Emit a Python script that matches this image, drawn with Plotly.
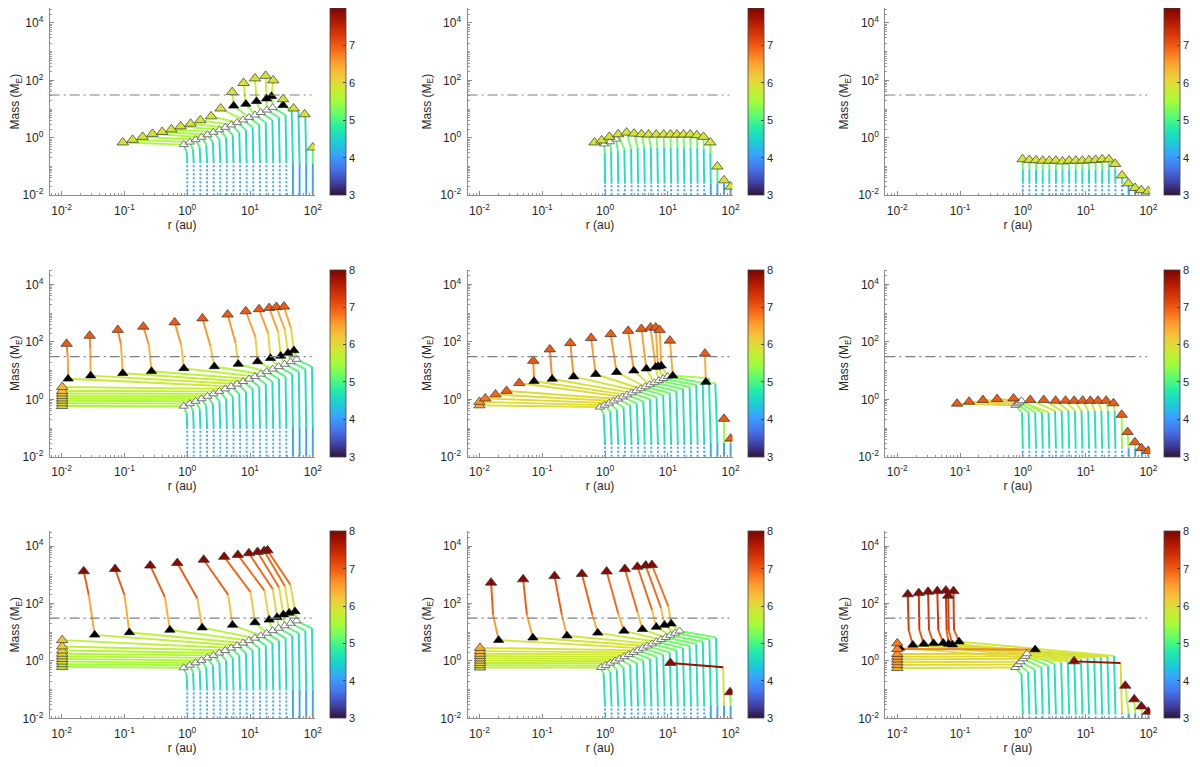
import plotly.graph_objects as go
import plotly.colors as pc

N = None

# starting orbits of the 20 embryos (au), same in every panel
R0 = [1.00, 1.27, 1.62, 2.07, 2.64, 3.36, 4.28, 5.46, 6.95, 8.86,
      11.3, 14.4, 18.3, 23.4, 29.8, 37.9, 48.3, 61.6, 78.5, 100.0]

M_START = 0.01      # seed mass (M_E)
ISO_MASS = 31       # dash-dot reference mass (M_E)

# per panel scalars, panel order: (1,1) (1,2) (1,3) (2,1) (2,2) (2,3) (3,1) (3,2) (3,3)
MD_ALL = [0.13, 0.025, 0.025, 0.10, 0.03, 0.02, 0.10, 0.027, 0.015]   # top of dotted stem
TW_ALL = [5.2, 5.2, 5.2, 5.2, 5.4, 5.6, 5.2, 5.4, 5.5]               # log t at open triangles
TG_ALL = [5.9, 6.0, 6.0, 6.8, 6.9, 7.0, 7.3, 7.2, 7.5]               # log t at top of gas tracks
TL_ALL = [5.9, 5.6, 5.4, 6.4, 6.6, 6.6, 6.3, 6.5, 6.8]               # log t where lines stop changing colour
NDOT = 16

# column 1 growth (knee, open triangles) shared by the three rows
C1_KR = [0.98, 1.24, 1.58, 2.01, 2.56, 3.26, 4.15, 5.30, 6.74, 8.60,
         11.0, 14.0, 17.8, 22.7, 28.9, 36.8, 46.9, 59.8, 76.1, 97.0]
C1_KM = [0.32, 0.39, 0.47, 0.58, 0.70, 0.86, 1.05, 1.28, 1.55, 1.89,
         2.31, 2.82, 3.43, 4.18, 5.10, 6.22, 7.6, 9.2, 11.3, 13.7]
C1_WR = [0.88, 1.10, 1.36, 1.69, 2.10, 2.62, 3.25, 4.04, 5.02, 6.25,
         7.76, 9.65, 12.0, 14.9, 18.5, 23.0, 28.6, 35.6, 44.3, 55.0]
C1_WM = [0.58, 0.71, 0.86, 1.05, 1.28, 1.56, 1.90, 2.32, 2.82, 3.44,
         4.20, 5.12, 6.24, 7.60, 9.27, 11.3, 13.8, 16.8, 20.5, 24.9]
NO_GAS = [N] * 20

# ---- panel (1,1)
P11_KR = C1_KR[:16] + [46.0, 59.0, 76.0, N]
P11_KM = C1_KM[:16] + [9.0, 8.0, 5.2, N]
P11_WR = C1_WR[:16] + [N, N, N, N]
P11_WM = C1_WM[:16] + [N, N, N, N]
P11_IR = [N] * 11 + [5.5, 8.6, 12.7, 18.3, 22.0, 33.6, N, N, N]
P11_IM = [N] * 11 + [13, 15, 18.7, 23, 28, 13.6, N, N, N]
P11_ER = [0.094, 0.135, 0.195, 0.28, 0.40, 0.56, 0.785, 1.13, 1.62, 2.4,
          3.4, 5.2, 7.9, 12.0, 17.7, 23.4, 33.6, 49.5, 74.0, 100.0]
P11_EM = [0.69, 0.85, 1.08, 1.37, 1.6, 1.97, 2.5, 3.1, 4.1, 5.6,
          10.5, 39, 81, 117, 144, 100, 22, 10.5, 6.6, 0.46]
P11_TE = [5.9] * 20
P11_TI = [N] * 11 + [5.6] * 6 + [N] * 3
P11_TK = [4.9] * 20

# ---- panel (1,2)
P12_KR = [0.99, 1.25, 1.60, 2.03, 2.60, 3.30, 4.2, 5.35, 6.8, 8.7,
          11.1, 14.2, 18.0, 23.0, 29.4, 37.3, 47.5, N, N, N]
P12_KM = [0.30, 0.32, 0.35, 0.40, 0.42, 0.45, 0.45, 0.45, 0.45, 0.45,
          0.45, 0.45, 0.45, 0.45, 0.45, 0.42, 0.30, N, N, N]
P12_WR = [0.97, 1.2, 1.5] + [N] * 17
P12_WM = [0.61, 0.73, 0.90] + [N] * 17
P12_IR = [N] * 20
P12_IM = [N] * 20
P12_ER = [0.68, 0.885, 1.17, 1.62, 2.2, 2.9, 3.8, 4.95, 6.55, 8.55,
          11.0, 14.0, 17.8, 22.7, 29.0, 37.0, 47.5, 61.6, 78.5, 100.0]
P12_EM = [0.69, 0.81, 1.08, 1.33, 1.52, 1.40, 1.33, 1.30, 1.30, 1.30,
          1.30, 1.30, 1.30, 1.30, 1.23, 1.08, 0.69, 0.10, 0.033, 0.02]
P12_TE = [5.9] * 20
P12_TI = [N] * 20
P12_TK = [4.9] * 20

# ---- panel (1,3)
P13_KR = [1.00, 1.27, 1.62, 2.07, 2.64, 3.36, 4.28, 5.46, 6.95, 8.86,
          11.3, 14.4, 18.3, 23.4, 29.4, N, N, N, N, N]
P13_KM = [0.08] * 15 + [N] * 5
P13_WR = [N] * 20
P13_WM = [N] * 20
P13_IR = [N] * 20
P13_IM = [N] * 20
P13_ER = [0.99, 1.27, 1.62, 2.07, 2.64, 3.36, 4.28, 5.46, 6.95, 8.86,
          11.3, 14.4, 18.3, 23.4, 29.4, 38.0, 48.0, 61.0, 77.0, 99.0]
P13_EM = [0.18, 0.17, 0.165, 0.16, 0.16, 0.16, 0.15, 0.16, 0.16, 0.16,
          0.165, 0.17, 0.178, 0.178, 0.123, 0.049, 0.026, 0.018, 0.015, 0.0137]
P13_TE = [5.9] * 20
P13_TI = [N] * 20
P13_TK = [4.9] * 20

# ---- panel (2,1)
P21_KR, P21_KM, P21_WR, P21_WM = C1_KR, C1_KM, C1_WR, C1_WM
P21_IR = [N] * 8 + [0.0127, 0.029, 0.094, 0.27, 0.885, 2.7, 6.5, 13.2, 21.2, 30.8, 40.3, 50.0]
P21_IM = [N] * 8 + [5.2, 6.7, 8.1, 9.5, 12, 14, 16.9, 20.8, 27, 32.5, 41, 50.6]
P21_GR = [N] * 8 + [0.0125, 0.0285, 0.088, 0.245, 0.80, 2.35, 5.9, 12.2, 19.5, 28.0, 36.0, 45.0]
P21_GM = [N] * 8 + [30, 60, 80, 80, 80, 70, 90, 150, 200, 230, 260, 290]
P21_ER = [0.0102] * 8 + [0.012, 0.028, 0.0785, 0.20, 0.63, 1.75, 4.4, 8.55, 13.9, 20.2, 26.3, 34.7]
P21_EM = [0.59, 0.73, 0.90, 1.08, 1.30, 1.60, 1.97, 2.7,
          86, 164, 263, 340, 480, 660, 900, 1170, 1380, 1520, 1650, 1700]
P21_TE = [5.9, 5.95, 6.0, 6.05, 6.1, 6.2, 6.25, 6.35] + [7.0] * 12
P21_TI = [N] * 8 + [6.45, 6.4, 6.3, 6.2, 6.1, 6.0, 5.9, 5.85, 5.8, 5.75, 5.7, 5.7]
P21_TK = [4.9] * 20

# ---- panel (2,2)
P22_KR = [0.95, 1.21, 1.54, 1.97, 2.51, 3.19, 4.07, 5.19, 6.60, 8.42,
          10.7, 13.7, 17.4, 22.2, 28.3, 36.0, 45.0, 57.0, N, N]
P22_KM = [0.32, 0.38, 0.44, 0.53, 0.62, 0.73, 0.86, 1.01, 1.19, 1.40,
          1.65, 1.94, 2.29, 2.70, 3.18, 3.74, 5.5, 3.6, N, N]
P22_WR = [0.83, 0.98, 1.16, 1.37, 1.62, 1.91, 2.25, 2.66, 3.14, 3.71,
          4.38, 5.16, 6.10, 7.19, 8.49, 10.0, N, N, N, N]
P22_WM = [0.54, 0.63, 0.74, 0.88, 1.03, 1.22, 1.43, 1.69, 1.99, 2.34,
          2.75, 3.24, 3.82, 4.50, 5.30, 6.24, N, N, N, N]
P22_IR = [N] * 6 + [0.074, 0.144, 0.316, 0.71, 1.53, 2.87, 4.55, 6.4, 7.0, 7.85, 12.0, 40.3, N, N]
P22_IM = [N] * 6 + [4.3, 5.1, 6.2, 7.5, 8.8, 10.0, 11.7, 13.3, 14.0, 14.8, 6.7, 4.0, N, N]
P22_ER = [0.0100, 0.0100, 0.0124, 0.018, 0.027, 0.043, 0.072, 0.132, 0.28, 0.60,
          1.23, 2.33, 3.8, 5.3, 6.4, 7.4, 10.8, 39.0, 78.5, 100.0]
P22_EM = [0.62, 0.82, 1.08, 1.48, 1.97, 3.7, 22, 55, 92, 137,
          187, 243, 285, 316, 316, 263, 111, 39, 0.21, 0.043]
P22_TE = [6.5, 6.6, 6.8, 6.9, 7.0, 7.0] + [7.0] * 14
P22_TI = [N] * 6 + [6.5, 6.45, 6.4, 6.35, 6.3, 6.25, 6.2, 6.15, 6.1, 6.05, 6.0, 6.0, N, N]
P22_TK = [5.0] * 20

# ---- panel (2,3)
P23_KR = [0.97, 1.23, 1.57, 2.01, 2.56, 3.26, 4.15, 5.30, 6.74, 8.60,
          11.0, 14.0, 17.8, 22.7, 28.9, N, N, N, N, N]
P23_KM = [0.35, 0.35, 0.35, 0.35, 0.35, 0.40, 0.40, 0.40, 0.40, 0.40,
          0.40, 0.40, 0.40, 0.40, 0.40, N, N, N, N, N]
P23_WR = [0.76, 0.82, 0.88, 0.95] + [N] * 16
P23_WM = [0.62, 0.70, 0.80, 0.90] + [N] * 16
P23_IR = [N] * 20
P23_IM = [N] * 20
P23_ER = [0.0897, 0.139, 0.231, 0.388, 0.71, 1.31, 2.15, 3.32, 4.78, 6.55,
          8.97, 11.9, 15.7, 21.2, 27.7, 37.5, 46.6, 60.8, 77.4, 99.0]
P23_EM = [0.71, 0.83, 0.95, 1.03, 1.08, 0.95, 0.95, 0.90, 0.90, 0.90,
          0.90, 0.90, 0.90, 0.90, 0.73, 0.29, 0.073, 0.032, 0.020, 0.016]
P23_TE = [7.0] * 20
P23_TI = [N] * 20
P23_TK = [5.0] * 20

# ---- panel (3,1)
P31_KR, P31_KM, P31_WR, P31_WM = C1_KR, C1_KM, C1_WR, C1_WM
P31_IR = [N] * 9 + [0.0336, 0.12, 0.53, 1.73, 5.26, 12.0, 20.2, 27.0, 34.0, 42.0, 52.0]
P31_IM = [N] * 9 + [8.1, 9.8, 12, 14.4, 17.8, 21.9, 27, 33, 41, 47, 53]
P31_GR = [N] * 9 + [0.027, 0.10, 0.44, 1.45, 4.5, 10.2, 17.0, 23.0, 29.0, 36.0, 44.0]
P31_GM = [N] * 9 + [200, 200, 170, 150, 200, 250, 280, 320, 360, 400, 450]
P31_ER = [0.0102] * 9 + [0.0225, 0.071, 0.258, 0.695, 1.83, 3.88, 6.4, 9.6, 13.2, 16.8, 19.0]
P31_EM = [0.62, 0.77, 0.95, 1.17, 1.44, 1.78, 2.3, 3.2, 5.3,
          1330, 1590, 2090, 2570, 3330, 4220, 4920, 5620, 6240, 6760, 7080]
P31_TE = [5.8, 5.85, 5.9, 5.95, 6.0, 6.05, 6.1, 6.15, 6.25] + [7.9] * 11
P31_TI = [N] * 9 + [6.2, 6.15, 6.1, 6.0, 5.9, 5.8, 5.75, 5.7, 5.65, 5.6, 5.6]
P31_TK = [4.9] * 20

# ---- panel (3,2)
P32_KR = [0.95, 1.21, 1.54, 1.97, 2.51, 3.19, 4.07, 5.19, 6.60, 8.42,
          10.7, 13.7, 17.4, 22.2, 28.3, 36.0, 45.9, 58.5, 76.0, N]
P32_KM = [0.35, 0.42, 0.50, 0.59, 0.71, 0.84, 1.0, 1.18, 1.40, 1.67,
          1.98, 2.36, 2.80, 3.32, 3.94, 4.68, 5.56, 6.6, 0.6, N]
P32_WR = [0.865, 1.02, 1.21, 1.44, 1.70, 2.02, 2.39, 2.83, 3.35, 3.97,
          4.70, 5.57, 6.59, 7.81, 9.25, 10.95, 13.0, 15.4, N, N]
P32_WM = [0.59, 0.70, 0.84, 0.99, 1.18, 1.40, 1.66, 1.97, 2.34, 2.78,
          3.30, 3.93, 4.66, 5.53, 6.57, 7.80, 9.26, 11.0, N, N]
P32_IR = [N] * 9 + [0.0202, 0.071, 0.248, 0.766, 2.0, 3.93, 6.55, 8.85, 11.3, N, N]
P32_IM = [N] * 9 + [5.3, 6.4, 7.5, 9.5, 11.1, 12.6, 15.2, 17.8, 19.7, N, N]
P32_GR = [N] * 9 + [0.0165, 0.057, 0.205, 0.63, 1.62, 3.3, 5.6, 7.8, 10.2, N, N]
P32_GM = [N] * 9 + [40, 40, 40, 40, 45, 50, 60, 70, 80, N, N]
P32_ER = [0.0102] * 9 + [0.0153, 0.0496, 0.157, 0.428, 1.06, 2.07, 3.28, 4.44, 5.58, 11.0, 98.0]
P32_EM = [0.59, 0.71, 0.85, 1.03, 1.23, 1.48, 1.78, 2.2, 2.85,
          533, 695, 900, 1070, 1300, 1590, 1900, 2090, 2190, 0.85, 0.081]
P32_TE = [6.0, 6.05, 6.1, 6.15, 6.2, 6.25, 6.3, 6.35, 6.45] + [7.9] * 11
P32_TI = [N] * 9 + [6.4, 6.35, 6.3, 6.2, 6.1, 6.0, 5.95, 5.9, 5.85, N, N]
P32_TK = [5.0] * 18 + [7.8, 5.0]

# ---- panel (3,3)
P33_KR = [0.95, 1.21, 1.54, 1.97, 2.51, 3.19, 4.07, 5.19, 6.60, 8.42,
          10.7, 13.7, 17.4, 22.2, 28.3, 36.0, N, N, N, N]
P33_KM = [0.35, 0.42, 0.5, 0.6, 0.7, 0.8, 0.9, 1.0, 1.1, 1.2,
          1.3, 1.35, 1.4, 1.45, 1.5, 0.85, N, N, N, N]
P33_WR = [0.757, 0.834, 0.92, 1.01, 1.10, 1.16] + [N] * 14
P33_WM = [0.59, 0.75, 0.94, 1.19, 1.45, 1.78] + [N] * 14
P33_IR = [N] * 6 + [1.57, 0.0109, 0.0177, 0.0264, 0.0379, 0.054, 0.066, 0.0757, 0.0965, N, N, N, N, N]
P33_IM = [N] * 6 + [2.5, 2.85, 3.6, 3.9, 4.1, 4.2, 3.9, 3.7, 4.7, N, N, N, N, N]
P33_GR = [N] * 8 + [0.0152, 0.0225, 0.032, 0.045, 0.061, 0.066, 0.080, N, N, N, N, N]
P33_GM = [N] * 8 + [12, 12, 12, 12, 12, 12, 12, N, N, N, N, N]
P33_ER = [0.0100] * 8 + [0.0147, 0.022, 0.0309, 0.0434, 0.0594, 0.0647, 0.0785, 6.55, 42.8, 59.4, 77.4, 99.0]
P33_EM = [0.57, 0.72, 0.9, 1.12, 1.4, 1.75, 2.6, 4.1,
          208, 230, 257, 270, 285, 187, 270, 0.97, 0.137, 0.046, 0.026, 0.017]
P33_TE = [6.4, 6.45, 6.5, 6.55, 6.6, 6.65, 6.7, 6.8] + [7.9] * 12
P33_TI = [N] * 6 + [6.0, 6.6, 6.9, 6.9, 6.9, 6.85, 6.85, 6.8, 6.8, N, N, N, N, N]
P33_TK = [5.0] * 15 + [7.8, 5.0, 5.0, 5.0, 5.0]

PANELS = [
    (P11_KR, P11_KM, P11_WR, P11_WM, P11_IR, P11_IM, NO_GAS, NO_GAS, P11_ER, P11_EM, P11_TE, P11_TI, P11_TK),
    (P12_KR, P12_KM, P12_WR, P12_WM, P12_IR, P12_IM, NO_GAS, NO_GAS, P12_ER, P12_EM, P12_TE, P12_TI, P12_TK),
    (P13_KR, P13_KM, P13_WR, P13_WM, P13_IR, P13_IM, NO_GAS, NO_GAS, P13_ER, P13_EM, P13_TE, P13_TI, P13_TK),
    (P21_KR, P21_KM, P21_WR, P21_WM, P21_IR, P21_IM, P21_GR, P21_GM, P21_ER, P21_EM, P21_TE, P21_TI, P21_TK),
    (P22_KR, P22_KM, P22_WR, P22_WM, P22_IR, P22_IM, NO_GAS, NO_GAS, P22_ER, P22_EM, P22_TE, P22_TI, P22_TK),
    (P23_KR, P23_KM, P23_WR, P23_WM, P23_IR, P23_IM, NO_GAS, NO_GAS, P23_ER, P23_EM, P23_TE, P23_TI, P23_TK),
    (P31_KR, P31_KM, P31_WR, P31_WM, P31_IR, P31_IM, P31_GR, P31_GM, P31_ER, P31_EM, P31_TE, P31_TI, P31_TK),
    (P32_KR, P32_KM, P32_WR, P32_WM, P32_IR, P32_IM, P32_GR, P32_GM, P32_ER, P32_EM, P32_TE, P32_TI, P32_TK),
    (P33_KR, P33_KM, P33_WR, P33_WM, P33_IR, P33_IM, P33_GR, P33_GM, P33_ER, P33_EM, P33_TE, P33_TI, P33_TK),
]

R_TICKS = [0.01, 0.1, 1, 10, 100]
R_TICKTEXT = ['10<sup>-2</sup>', '10<sup>-1</sup>', '10<sup>0</sup>', '10<sup>1</sup>', '10<sup>2</sup>']
M_TICKS = [0.01, 1, 100, 10000]
M_TICKTEXT = ['10<sup>-2</sup>', '10<sup>0</sup>', '10<sup>2</sup>', '10<sup>4</sup>']

TMIN, TMAX = 3.0, 8.0
TURBO = [(s, pc.hex_to_rgb(c)) for s, c in pc.get_colorscale('Turbo')]


def tcolor(t):
    f = min(max((t - TMIN) / (TMAX - TMIN), 0.0), 1.0)
    for (s0, c0), (s1, c1) in zip(TURBO[:-1], TURBO[1:]):
        if f <= s1:
            w = (f - s0) / (s1 - s0) if s1 > s0 else 0
            return 'rgb(%d,%d,%d)' % tuple(round(a + (b - a) * w) for a, b in zip(c0, c1))
    return 'rgb(%d,%d,%d)' % TURBO[-1][1]


# the page body has an 8 px margin, so the figure is drawn 8 px smaller and offset
OFF = 8
W, H = 1200 - OFF, 767 - OFF
COL_X = [(48, 315), (469, 736), (890, 1157)]
ROW_Y = [(8, 197), (272, 461), (536, 725)]
CB_X = [330, 752, 1171]
FONT = 'Liberation Sans, Arial, sans-serif'
TXT = '#262626'

fig = go.Figure()
layout = dict(width=W, height=H, margin=dict(l=0, r=0, t=0, b=0),
              paper_bgcolor='white', plot_bgcolor='white', showlegend=False,
              font=dict(family=FONT, color=TXT, size=11), shapes=[])

for p, (kr, km, wr, wm, ir, im, gr, gm, er, em, te, ti, tk) in enumerate(PANELS):
    row, col = divmod(p, 3)
    sfx = '' if p == 0 else str(p + 1)
    xa, ya = 'x' + sfx, 'y' + sfx
    md, tw, tg, tl = MD_ALL[p], TW_ALL[p], TG_ALL[p], TL_ALL[p]

    groups = {}

    def seg(a, b, t, dotted=False):
        key = (round(t * 20) / 20, dotted)
        gx, gy = groups.setdefault(key, ([], []))
        gx += [a[0], b[0], None]
        gy += [a[1], b[1], None]

    for i, r0 in enumerate(R0):
        mb = min(md, em[i])
        seg((r0, M_START), (r0, mb), 4.1, dotted=i < NDOT)
        cur = (r0, mb, 4.3)
        for (rr, mm, tt) in ((kr[i], km[i], tk[i]), (wr[i], wm[i], tw), (ir[i], im[i], ti[i])):
            if rr is None:
                continue
            seg(cur, (rr, mm), (cur[2] + tt) / 2)
            cur = (rr, mm, tt)
        if ir[i] is not None:
            if gr[i] is not None:
                tmid = (ti[i] + tg) / 2
                seg(cur, (gr[i], gm[i]), (ti[i] + tmid) / 2)
                seg((gr[i], gm[i]), (er[i], em[i]), (tmid + tg) / 2)
            else:
                seg(cur, (er[i], em[i]), (ti[i] + tg) / 2)
        else:
            tend = min(te[i], max(tl, tk[i]))
            seg(cur, (er[i], em[i]), (cur[2] + tend) / 2)

    for (t, dotted), (gx, gy) in sorted(groups.items()):
        fig.add_trace(go.Scatter(
            x=gx, y=gy, mode='lines', xaxis=xa, yaxis=ya, hoverinfo='skip',
            line=dict(color=tcolor(t), width=1.9, dash='2px,2px' if dotted else 'solid')))

    # open triangles
    wx = [r for r in wr if r is not None]
    wy = [m for m in wm if m is not None]
    fig.add_trace(go.Scatter(x=wx, y=wy, mode='markers', xaxis=xa, yaxis=ya,
                             marker=dict(symbol='triangle-up', size=8, color='white',
                                         line=dict(color='#555555', width=0.8))))
    # isolation (black) triangles
    bx = [r for r in ir if r is not None]
    by = [m for m in im if m is not None]
    fig.add_trace(go.Scatter(x=bx, y=by, mode='markers', xaxis=xa, yaxis=ya,
                             marker=dict(symbol='triangle-up', size=9, color='black',
                                         line=dict(color='black', width=0.6))))
    # final positions
    fig.add_trace(go.Scatter(x=er, y=em, mode='markers', xaxis=xa, yaxis=ya,
                             marker=dict(symbol='triangle-up', size=10,
                                         color=[tcolor(t) for t in te],
                                         line=dict(color='#333333', width=0.7))))

    # colour bar holder
    y0, y1 = ROW_Y[row]
    y0, y1 = y0 - OFF, y1 - OFF
    fig.add_trace(go.Scatter(
        x=[1e-6, 1e-6], y=[1e-6, 1e-6], mode='markers', xaxis=xa, yaxis=ya, hoverinfo='skip',
        marker=dict(color=[TMIN, TMAX], cmin=TMIN, cmax=TMAX, colorscale='Turbo', opacity=0,
                    showscale=True,
                    colorbar=dict(x=(CB_X[col] - OFF) / W, xanchor='left', xpad=0,
                                  y=1 - (y0 + y1) / 2 / H, yanchor='middle', ypad=0,
                                  len=(y1 - y0) / H, lenmode='fraction',
                                  thickness=16, thicknessmode='pixels',
                                  outlinewidth=0.8, outlinecolor='#444444',
                                  tickvals=[3, 4, 5, 6, 7, 8], ticks='inside', ticklen=3,
                                  tickcolor='#444444', tickfont=dict(size=11, color=TXT)))))

    x0, x1 = COL_X[col]
    x0, x1 = x0 - OFF, x1 - OFF
    axis_common = dict(type='log', showgrid=False, zeroline=False, showline=True,
                       linecolor='#8c8c8c', linewidth=1, ticks='inside', ticklen=4,
                       tickcolor='#8c8c8c', tickfont=dict(size=12, color=TXT),
                       minor=dict(ticks='inside', ticklen=2, tickcolor='#9a9a9a', dtick='D1'))
    layout['xaxis' + sfx] = dict(
        axis_common, domain=[x0 / W, x1 / W], anchor=ya, range=[-2.19, 2.03],
        tickmode='array', tickvals=R_TICKS, ticktext=R_TICKTEXT, ticklabelstandoff=4,
        title=dict(text='r (au)', font=dict(size=12, color=TXT), standoff=2))
    layout['yaxis' + sfx] = dict(
        axis_common, domain=[1 - y1 / H, 1 - y0 / H], anchor=xa, range=[-2, 4.52],
        tickmode='array', tickvals=M_TICKS, ticktext=M_TICKTEXT, ticklabelstandoff=3,
        title=dict(text='Mass (M<sub>E</sub>)', font=dict(size=12, color=TXT), standoff=6))

    layout['shapes'].append(dict(type='line', xref=xa + ' domain', yref=ya,
                                 x0=0, x1=0.988, y0=ISO_MASS, y1=ISO_MASS,
                                 line=dict(color='#7f7f7f', width=1.2, dash='10px,4px,2px,4px')))

fig.update_layout(**layout)
fig.write_html('out.html')
